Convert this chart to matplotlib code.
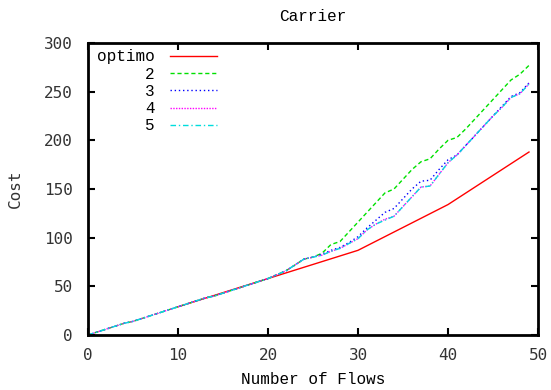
import matplotlib
matplotlib.use("Agg")
import matplotlib.pyplot as plt
import numpy as np

# Data
optimo_x = [10, 20, 30, 40, 49]
optimo_y = [29, 58, 87, 134, 188]

flows = list(range(0, 50))
common = [0, 3, 6, 9, 12, 14, 17, 20, 23, 26, 29, 32, 35, 38, 40, 43, 46, 49, 52, 55,
          58, 62, 66, 72, 78, 80]
s2_tail = [84, 93, 96, 106, 116, 126, 136, 146, 150, 160, 170, 178, 181, 191, 200, 203,
           212, 222, 232, 242, 252, 262, 268, 277]
s3_tail = [83, 87, 90, 95, 101, 110, 118, 126, 130, 140, 150, 158, 159, 170, 180, 185,
           195, 205, 215, 225, 235, 245, 249, 259]
s4_tail = [82, 86, 89, 94, 99, 108, 114, 119, 122, 132, 142, 152, 153, 165, 177, 185,
           195, 205, 215, 225, 234, 244, 248, 258]
s5_tail = [82, 86, 89, 94, 99, 108, 114, 118, 122, 132, 142, 152, 153, 165, 177, 185,
           195, 205, 215, 225, 234, 244, 248, 258]
series2 = common + s2_tail
series3 = common + s3_tail
series4 = common + s4_tail
series5 = common + s5_tail

labels = ["optimo", "2", "3", "4", "5"]
xticks = [0, 10, 20, 30, 40, 50]
yticks = [0, 50, 100, 150, 200, 250, 300]

serif_mono = "Liberation Mono"
sans_mono = "DejaVu Sans Mono"

fig = plt.figure(figsize=(5.51, 3.90), dpi=100)
ax = fig.add_axes([88/551, 55/390, 450/551, 292/390])

ax.plot(optimo_x, optimo_y, color="#ff0000", lw=1.0, ls="-", label=labels[0])
ax.plot(flows, series2, color="#00e000", lw=1.0, ls=(0, (3, 2)), label=labels[1])
ax.plot(flows, series3, color="#0000ff", lw=1.0, ls=(0, (1, 2)), label=labels[2])
ax.plot(flows, series4, color="#ff00ff", lw=1.0, ls=(0, (1, 1)), label=labels[3])
ax.plot(flows, series5, color="#00dddd", lw=1.0, ls=(0, (4, 2, 1, 2)), label=labels[4])

ax.set_xlim(0, 50)
ax.set_ylim(0, 300)
ax.set_xticks(xticks)
ax.set_yticks(yticks)
ax.tick_params(direction="in", length=5, width=1.5, top=True, right=True,
               labelsize=11.5, labelcolor="#333333")
ax.tick_params(axis="x", pad=9)
ax.tick_params(axis="y", pad=11)
for lab in ax.get_xticklabels() + ax.get_yticklabels():
    lab.set_family(sans_mono)
for s in ax.spines.values():
    s.set_linewidth(2)

ax.set_xlabel("Number of Flows", family=serif_mono, fontsize=11.5, labelpad=7)
ax.set_ylabel("Cost", family=sans_mono, fontsize=11.5, labelpad=15, color="#333333")
ax.set_title("Carrier", family=serif_mono, fontsize=11.5, pad=16)

leg = ax.legend(loc="upper left", markerfirst=False, frameon=False,
                prop={"family": serif_mono, "size": 11.5},
                handlelength=2.9, handletextpad=1.0, labelspacing=0.14,
                borderaxespad=0.0, bbox_to_anchor=(0.005, 1.0))

fig.savefig("out.png", dpi=100)
